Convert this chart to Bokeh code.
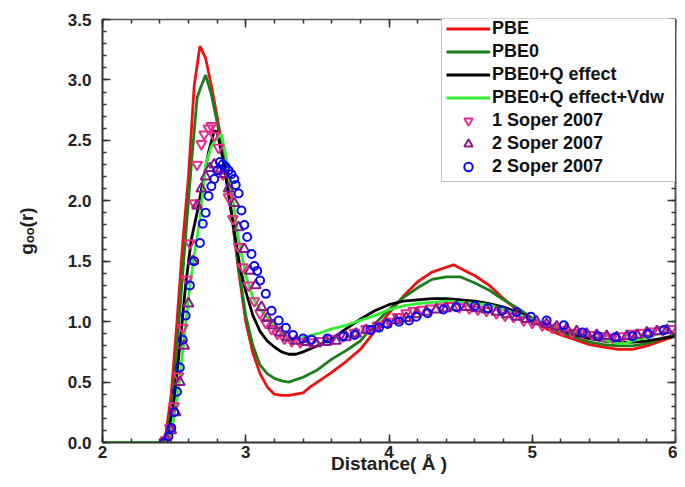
from bokeh.plotting import figure
from bokeh.models import (LinearAxis, SingleIntervalTicker, PrintfTickFormatter,
                          Legend, LegendItem)
from bokeh.embed import file_html
from bokeh.resources import INLINE

# ---- data ----
pbe_x = [2.0, 2.40, 2.44, 2.48, 2.52, 2.56, 2.60, 2.64, 2.68, 2.72, 2.76, 2.80, 2.85, 2.90, 2.95,
         3.00, 3.05, 3.10, 3.15, 3.20, 3.25, 3.30, 3.35, 3.40, 3.45, 3.50, 3.60, 3.70, 3.80, 3.90,
         4.00, 4.10, 4.20, 4.30, 4.40, 4.45, 4.50, 4.60, 4.70, 4.80, 4.90, 5.00, 5.10, 5.20, 5.30,
         5.40, 5.50, 5.60, 5.70, 5.80, 5.90, 6.00]
pbe_y = [0.0, 0.0, 0.05, 0.40, 1.00, 1.65, 2.20, 2.95, 3.28, 3.18, 2.95, 2.70, 2.35, 1.90, 1.42,
         1.00, 0.74, 0.57, 0.46, 0.40, 0.39, 0.39, 0.40, 0.41, 0.46, 0.50, 0.58, 0.67, 0.77, 0.92,
         1.07, 1.21, 1.33, 1.41, 1.45, 1.47, 1.44, 1.38, 1.30, 1.19, 1.09, 1.01, 0.94, 0.89, 0.85,
         0.81, 0.79, 0.77, 0.77, 0.80, 0.84, 0.88]

pbe0_x = [2.0, 2.42, 2.46, 2.50, 2.54, 2.58, 2.62, 2.66, 2.68, 2.72, 2.76, 2.80, 2.85, 2.90, 2.95,
          3.00, 3.05, 3.10, 3.15, 3.20, 3.25, 3.30, 3.35, 3.40, 3.50, 3.60, 3.70, 3.80, 3.90, 4.00,
          4.10, 4.20, 4.30, 4.40, 4.50, 4.60, 4.70, 4.80, 4.90, 5.00, 5.10, 5.20, 5.30, 5.40, 5.50,
          5.60, 5.70, 5.80, 5.90, 6.00]
pbe0_y = [0.0, 0.0, 0.10, 0.50, 1.10, 1.70, 2.30, 2.85, 2.92, 3.04, 2.88, 2.65, 2.30, 1.90, 1.45,
          1.05, 0.80, 0.64, 0.57, 0.53, 0.51, 0.50, 0.52, 0.54, 0.60, 0.69, 0.76, 0.84, 0.98, 1.10,
          1.20, 1.28, 1.35, 1.37, 1.37, 1.32, 1.26, 1.18, 1.11, 1.03, 0.96, 0.91, 0.87, 0.83, 0.81,
          0.80, 0.80, 0.82, 0.86, 0.89]

q_x = [2.0, 2.42, 2.46, 2.50, 2.54, 2.58, 2.62, 2.66, 2.70, 2.74, 2.78, 2.80, 2.84, 2.88, 2.92,
       2.96, 3.00, 3.05, 3.10, 3.15, 3.20, 3.25, 3.30, 3.35, 3.40, 3.50, 3.60, 3.70, 3.80, 3.90,
       4.00, 4.10, 4.20, 4.30, 4.40, 4.50, 4.60, 4.70, 4.80, 4.90, 5.00, 5.10, 5.20, 5.30, 5.40,
       5.50, 5.60, 5.70, 5.80, 5.90, 6.00]
q_y = [0.0, 0.0, 0.08, 0.35, 0.80, 1.30, 1.68, 1.90, 2.15, 2.40, 2.58, 2.57, 2.35, 2.05, 1.75,
       1.45, 1.25, 1.05, 0.92, 0.84, 0.79, 0.75, 0.73, 0.73, 0.75, 0.80, 0.86, 0.94, 1.02, 1.09,
       1.14, 1.17, 1.18, 1.19, 1.19, 1.18, 1.17, 1.15, 1.12, 1.08, 1.02, 0.97, 0.93, 0.89, 0.86,
       0.84, 0.83, 0.83, 0.84, 0.86, 0.88]

vdw_x = [2.0, 2.44, 2.48, 2.52, 2.56, 2.60, 2.64, 2.68, 2.72, 2.76, 2.80, 2.83, 2.86, 2.90, 2.95,
         3.00, 3.05, 3.10, 3.16, 3.20, 3.25, 3.30, 3.40, 3.50, 3.60, 3.70, 3.80, 3.90, 4.00, 4.10,
         4.20, 4.30, 4.40, 4.50, 4.60, 4.70, 4.80, 4.90, 5.00, 5.10, 5.20, 5.30, 5.40, 5.50, 5.60,
         5.65, 5.70, 5.80, 5.92]
vdw_y = [0.0, 0.0, 0.08, 0.35, 0.75, 1.20, 1.55, 1.85, 2.30, 2.45, 2.52, 2.55, 2.38, 2.10, 1.68,
         1.38, 1.20, 1.10, 1.02, 0.97, 0.90, 0.84, 0.87, 0.90, 0.94, 0.97, 1.01, 1.05, 1.10, 1.13,
         1.15, 1.16, 1.17, 1.16, 1.15, 1.14, 1.10, 1.06, 1.02, 0.98, 0.94, 0.91, 0.88, 0.85, 0.82,
         0.82, 0.84, 0.87, 0.91]

s1_x = [2.44, 2.47, 2.50, 2.53, 2.56, 2.59, 2.61, 2.64, 2.66, 2.69, 2.71, 2.74, 2.76, 2.78, 2.81,
        2.84, 2.88, 2.91, 2.95, 2.98, 3.02, 3.06, 3.10, 3.14, 3.18, 3.22, 3.27, 3.32, 3.38, 3.45,
        3.52, 3.60, 3.68, 3.76, 3.84, 3.92, 4.00, 4.06, 4.12, 4.17, 4.23, 4.29, 4.36, 4.42, 4.49,
        4.56, 4.62, 4.68, 4.75, 4.81, 4.87, 4.94, 5.00, 5.07, 5.14, 5.21, 5.28, 5.35, 5.42, 5.49,
        5.56, 5.63, 5.70, 5.77, 5.84, 5.91, 5.97]
s1_y = [0.02, 0.12, 0.30, 0.55, 0.95, 1.35, 1.65, 1.98, 2.30, 2.47, 2.55, 2.60, 2.62, 2.54, 2.44,
        2.22, 2.03, 1.85, 1.62, 1.45, 1.30, 1.17, 1.07, 0.99, 0.94, 0.90, 0.86, 0.84, 0.83, 0.83,
        0.84, 0.86, 0.88, 0.91, 0.94, 0.97, 1.00, 1.04, 1.07, 1.09, 1.10, 1.11, 1.12, 1.13, 1.12,
        1.11, 1.10, 1.09, 1.07, 1.05, 1.04, 1.01, 0.99, 0.97, 0.95, 0.93, 0.91, 0.90, 0.89, 0.88,
        0.87, 0.88, 0.90, 0.91, 0.92, 0.93, 0.94]

s2_x = [2.45, 2.48, 2.51, 2.54, 2.57, 2.60, 2.63, 2.66, 2.69, 2.72, 2.75, 2.78, 2.82, 2.85, 2.88,
        2.92, 2.95, 2.99, 3.03, 3.07, 3.11, 3.15, 3.19, 3.24, 3.29, 3.35, 3.42, 3.49, 3.56, 3.63,
        3.70, 3.77, 3.84, 3.91, 3.98, 4.05, 4.12, 4.19, 4.26, 4.33, 4.40, 4.47, 4.54, 4.61, 4.68,
        4.75, 4.82, 4.89, 4.96, 5.03, 5.10, 5.17, 5.24, 5.31, 5.38, 5.45, 5.52, 5.59, 5.66, 5.73,
        5.80, 5.87, 5.94]
s2_y = [0.02, 0.10, 0.25, 0.50, 0.80, 1.15, 1.50, 1.96, 2.10, 2.20, 2.27, 2.30, 2.25, 2.22, 2.10,
        1.98, 1.78, 1.60, 1.42, 1.30, 1.12, 1.03, 0.97, 0.91, 0.87, 0.84, 0.83, 0.82, 0.83, 0.84,
        0.87, 0.90, 0.93, 0.95, 0.98, 1.01, 1.03, 1.06, 1.08, 1.10, 1.11, 1.12, 1.12, 1.11, 1.10,
        1.08, 1.06, 1.04, 1.02, 1.00, 0.98, 0.96, 0.94, 0.92, 0.90, 0.89, 0.88, 0.87, 0.88, 0.89,
        0.91, 0.92, 0.93]

s3_x = [2.43, 2.46, 2.48, 2.50, 2.52, 2.54, 2.56, 2.58, 2.61, 2.64, 2.68, 2.70, 2.72, 2.74, 2.76,
        2.78, 2.80, 2.82, 2.84, 2.86, 2.88, 2.90, 2.92, 2.93, 2.95, 2.97, 2.99, 3.01, 3.04, 3.06,
        3.08, 3.10, 3.14, 3.18, 3.23, 3.28, 3.33, 3.40, 3.46, 3.57, 3.68, 3.76, 3.87, 3.93, 3.99,
        4.07, 4.14, 4.19, 4.27, 4.38, 4.47, 4.60, 4.69, 4.79, 4.89, 4.99, 5.10, 5.22, 5.35, 5.46,
        5.58, 5.70, 5.81, 5.92]
s3_y = [0.00, 0.05, 0.12, 0.25, 0.42, 0.62, 0.85, 1.05, 1.30, 1.50, 1.65, 1.81, 1.90, 2.04, 2.12,
        2.18, 2.25, 2.32, 2.30, 2.28, 2.25, 2.22, 2.18, 2.13, 2.06, 1.92, 1.80, 1.70, 1.56, 1.46,
        1.42, 1.34, 1.23, 1.09, 1.01, 0.95, 0.89, 0.86, 0.85, 0.86, 0.88, 0.89, 0.93, 0.95, 0.98,
        1.00, 1.01, 1.04, 1.07, 1.10, 1.12, 1.13, 1.11, 1.09, 1.08, 1.04, 1.01, 0.97, 0.91, 0.88,
        0.87, 0.88, 0.90, 0.93]

labels = ["PBE", "PBE0", "PBE0+Q effect", "PBE0+Q effect+Vdw",
          "1 Soper 2007", "2 Soper 2007", "2 Soper 2007"]

FONT = "Liberation Sans"

p = figure(width=677, height=479, x_range=(2, 6), y_range=(0, 3.5),
           output_backend="svg", toolbar_location=None,
           min_border_left=102, min_border_right=2, min_border_top=19, min_border_bottom=37)
p.xgrid.visible = False
p.ygrid.visible = False
p.outline_line_color = None
p.background_fill_color = "white"

# lines
r1 = p.line(pbe_x, pbe_y, line_color="#f01010", line_width=2.8)
r2 = p.line(pbe0_x, pbe0_y, line_color="#1b7d1b", line_width=2.8)
r3 = p.line(q_x, q_y, line_color="black", line_width=2.8)
r4 = p.line(vdw_x, vdw_y, line_color="#33ee33", line_width=2.8)
# markers
r5 = p.scatter(s1_x, s1_y, marker="inverted_triangle", size=10, fill_color=None,
               line_color="#ee2a8c", line_width=2)
r6 = p.scatter(s2_x, s2_y, marker="triangle", size=10, fill_color=None,
               line_color="#8a1a8a", line_width=2)
r7 = p.scatter(s3_x, s3_y, marker="circle", size=8, fill_color=None,
               line_color="#0a0af0", line_width=2)


def style_axis(ax):
    ax.axis_line_width = 2
    ax.axis_line_color = "#333333"
    ax.major_tick_in = 8
    ax.major_tick_out = 0
    ax.minor_tick_in = 4
    ax.minor_tick_out = 0
    ax.major_tick_line_color = "#333333"
    ax.minor_tick_line_color = "#333333"
    ax.major_tick_line_width = 1.5
    ax.minor_tick_line_width = 1.5
    ax.major_label_text_font = FONT
    ax.major_label_text_font_style = "bold"
    ax.major_label_text_font_size = "17px"
    ax.major_label_text_color = "#222222"
    ax.axis_label_text_font = FONT
    ax.axis_label_text_font_style = "bold"
    ax.axis_label_text_font_size = "19px"
    ax.axis_label_text_color = "#222222"


def frame_axis(ax):
    style_axis(ax)
    ax.axis_line_color = "#555555"
    ax.major_label_text_font_size = "0px"
    ax.major_label_text_color = None
    ax.major_label_text_alpha = 0
    ax.major_label_standoff = 0


xa = p.xaxis[0]
ya = p.yaxis[0]
xa.ticker = SingleIntervalTicker(interval=1, num_minor_ticks=5)
ya.ticker = SingleIntervalTicker(interval=0.5, num_minor_ticks=5)
ya.formatter = PrintfTickFormatter(format="%.1f")
style_axis(xa)
style_axis(ya)
xa.major_label_standoff = 3
xa.axis_label = "Distance( Å )"
xa.axis_label_standoff = -8
ya.major_label_standoff = 11
ya.axis_label = "gₒₒ(r)"
ya.axis_label_standoff = 28

top = LinearAxis(ticker=SingleIntervalTicker(interval=1, num_minor_ticks=5))
frame_axis(top)
top.axis_line_width = 1.5
p.add_layout(top, "above")

right = LinearAxis(ticker=SingleIntervalTicker(interval=0.5, num_minor_ticks=5))
frame_axis(right)
p.add_layout(right, "right")

renderers = [r1, r2, r3, r4, r5, r6, r7]
legend = Legend(items=[LegendItem(label=lab, renderers=[r]) for lab, r in zip(labels, renderers)],
                location=(339, 260), margin=0, padding=4, spacing=2,
                label_height=21, glyph_height=21, glyph_width=44, label_standoff=2,
                label_width=180,
                label_text_font=FONT, label_text_font_style="bold",
                label_text_font_size="18px", label_text_color="#111111",
                border_line_color="#888888", border_line_width=1,
                background_fill_color="white", background_fill_alpha=1.0)
p.add_layout(legend)

open("out.html", "w").write(file_html(p, INLINE))
